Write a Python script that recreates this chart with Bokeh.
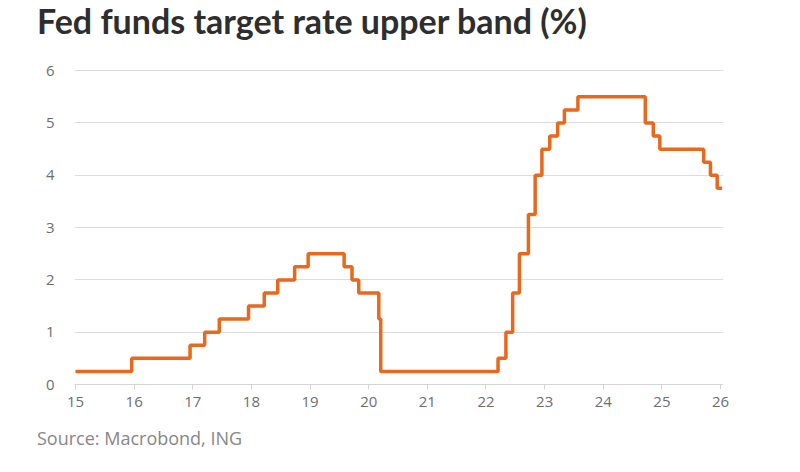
import pandas as pd
from bokeh.plotting import figure
from bokeh.models import FixedTicker, Range1d, Div
from bokeh.layouts import column
from bokeh.embed import file_html
from bokeh.resources import INLINE

# Dates of changes in the Fed funds target rate upper band, and the new level (%)
change_dates = [
    "2015-01-01", "2015-12-17", "2016-12-15", "2017-03-16", "2017-06-15",
    "2017-12-14", "2018-03-22", "2018-06-14", "2018-09-27", "2018-12-20",
    "2019-08-01", "2019-09-19", "2019-10-31", "2020-03-04", "2020-03-16",
    "2022-03-17", "2022-05-05", "2022-06-16", "2022-07-28", "2022-09-22",
    "2022-11-03", "2022-12-15", "2023-02-02", "2023-03-23", "2023-05-04",
    "2023-07-27", "2024-09-19", "2024-11-08", "2024-12-19", "2025-09-18",
    "2025-10-30", "2025-12-11", "2026-01-10",
]
upper_band = [
    0.25, 0.50, 0.75, 1.00, 1.25,
    1.50, 1.75, 2.00, 2.25, 2.50,
    2.25, 2.00, 1.75, 1.25, 0.25,
    0.50, 1.00, 1.75, 2.50, 3.25,
    4.00, 4.50, 4.75, 5.00, 5.25,
    5.50, 5.00, 4.75, 4.50, 4.25,
    4.00, 3.75, 3.75,
]
year_ticks = list(range(2015, 2027))
year_labels = ["15", "16", "17", "18", "19", "20", "21", "22", "23", "24", "25", "26"]
y_ticks = [0, 1, 2, 3, 4, 5, 6]

title_text = "Fed funds target rate upper band (%)"
source_text = "Source: Macrobond, ING"

d = pd.to_datetime(change_dates)
x = list(d.year + (d.dayofyear - 1) / (365 + d.is_leap_year.astype(int)))

title_div = Div(
    text=title_text, width=800, height=44, margin=(0, 0, 0, 0),
    styles={"font-family": "Lato", "font-size": "34px", "font-weight": "bold",
            "color": "#2e2e2e", "line-height": "normal", "padding-left": "37px",
            "white-space": "nowrap"},
)

p = figure(
    width=800, height=376, output_backend="svg", toolbar_location=None,
    x_range=Range1d(2014.983, 2026.05), y_range=Range1d(0, 6.08),
    min_border_left=74, min_border_right=77, min_border_top=22, min_border_bottom=36,
    margin=(0, 0, 0, 0),
)
p.outline_line_color = None
p.background_fill_color = "white"
p.border_fill_color = "white"

p.step(x, upper_band, mode="after", line_color="#E8681E", line_width=3.5)

# grid
p.xgrid.grid_line_color = None
p.ygrid.ticker = FixedTicker(ticks=y_ticks[1:])
p.ygrid.grid_line_color = "#dcdcdc"
p.ygrid.grid_line_width = 1

# x axis
p.xaxis.ticker = FixedTicker(ticks=year_ticks)
p.xaxis.major_label_overrides = {yr: lab for yr, lab in zip(year_ticks, year_labels)}
p.xaxis.axis_line_color = "#d4d4d4"
p.xaxis.major_tick_line_color = "#d4d4d4"
p.xaxis.major_tick_out = 5
p.xaxis.major_tick_in = 0
p.xaxis.minor_tick_line_color = None
p.xaxis.major_label_text_font = "Open Sans"
p.xaxis.major_label_text_font_size = "15px"
p.xaxis.major_label_text_color = "#6e6e6e"
p.xaxis.major_label_standoff = 7

# y axis
p.yaxis.ticker = FixedTicker(ticks=y_ticks)
p.yaxis.axis_line_color = None
p.yaxis.major_tick_line_color = None
p.yaxis.minor_tick_line_color = None
p.yaxis.major_label_text_font = "Open Sans"
p.yaxis.major_label_text_font_size = "15px"
p.yaxis.major_label_text_color = "#6e6e6e"
p.yaxis.major_label_standoff = 14

source_div = Div(
    text=source_text, width=800, height=52, margin=(0, 0, 0, 0),
    styles={"font-family": "Open Sans", "font-size": "18px", "color": "#878787",
            "line-height": "36px", "padding-left": "37px", "white-space": "nowrap"},
)

layout = column(title_div, p, source_div, spacing=0, margin=(0, 0, 0, 0))

open("out.html", "w").write(file_html(layout, INLINE))
